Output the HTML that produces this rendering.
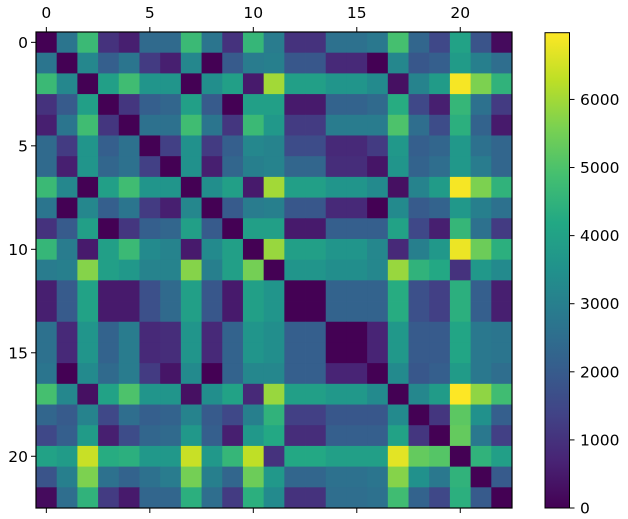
<!DOCTYPE html>
<html><head><meta charset="utf-8"><style>
html,body{margin:0;padding:0;background:#fff;}
svg{display:block;font-family:"DejaVu Sans","Liberation Sans",sans-serif;}
</style></head><body>
<svg id="chart" width="628" height="519" viewBox="0 0 628 519" xmlns="http://www.w3.org/2000/svg">
<defs><linearGradient id="vir" x1="0" y1="1" x2="0" y2="0"></linearGradient></defs>
<g id="cells"></g>
<g id="axes"></g>
<g id="cbar"></g>
</svg>
<script>
const rowLabels = [0,5,10,15,20];
const cbarTicks = [0,1000,2000,3000,4000,5000,6000];
const vmax = 6980;
const r0 = [0,2700,4700,1000,600,2400,2400,4700,2700,1000,4600,2900,1000,1000,2600,2600,2800,4900,2300,1500,4000,1800,200];
const r1 = [2700,0,3200,2100,2700,1200,600,3200,0,2000,2900,3000,1900,1900,800,800,0,3200,1900,2100,3800,3000,2500];
const r2 = [4700,3200,0,3900,4800,3600,3600,0,3400,3900,500,6000,3900,3900,3600,3600,3300,300,3100,3800,6900,5600,4500];
const r3 = [1000,2000,3900,0,1100,2100,2300,3900,2000,0,3900,3900,500,500,2200,2200,2400,4300,1500,600,4600,2600,1200];
const r4 = [600,2700,4800,1100,0,2600,2600,4800,2700,1100,4700,3700,1200,1200,2900,2900,2900,5000,2500,1600,4400,2200,500];
const r5 = [2400,1200,3600,2100,2600,0,1300,3500,1200,2100,3200,3100,1600,1600,800,800,1200,3700,2100,2300,3700,2600,2300];
const r6 = [2400,600,3600,2300,2600,1300,0,3500,600,2300,3000,3100,2300,2300,900,900,400,3600,2200,2500,3700,2900,2300];
const r7 = [4700,3200,0,3900,4800,3600,3600,0,3400,3900,500,6000,3900,3900,3600,3600,3300,300,3100,3800,6900,5600,4500];
const r8 = [2700,0,3200,2100,2700,1200,600,3200,0,2000,2900,3000,1900,1900,800,800,0,3300,2000,2200,3700,3000,2600];
const r9 = [1000,2000,3900,0,1100,2100,2300,3900,2000,0,3900,3900,500,500,2100,2100,2100,4000,1500,600,4600,2600,1200];
const r10 = [4600,2900,500,3900,4700,3300,3100,500,3300,3900,0,5900,3900,3900,3600,3600,3200,800,3000,3700,6800,5400,4400];
const r11 = [2900,3000,5700,3900,3700,3100,3100,5700,3000,3900,5500,0,3600,3600,3400,3400,3200,5900,4500,4200,1000,3700,3300];
const r12 = [600,2000,4000,500,500,1700,2400,3900,1900,500,3900,3600,0,0,2200,2200,2200,4300,1700,1300,4400,2100,600];
const r13 = [600,2000,4000,500,500,1700,2400,3900,1900,500,3900,3600,0,0,2200,2200,2200,4300,1700,1300,4400,2100,600];
const r14 = [2600,800,3600,2200,2900,800,900,3600,800,2200,3600,3400,2100,2100,0,0,700,3700,2000,2000,4100,2800,2700];
const r15 = [2600,800,3600,2200,2900,800,900,3600,800,2200,3600,3400,2100,2100,0,0,700,3700,2000,2000,4100,2800,2700];
const r16 = [2700,0,3300,2400,2900,1200,400,3300,0,2200,3200,3200,2100,2100,700,700,0,3300,1900,2100,3800,2800,2500];
const r17 = [4900,3200,300,4000,5000,3600,3600,300,3400,4000,800,5900,3900,3900,3700,3700,3300,0,3200,3800,6980,5800,4800];
const r18 = [2300,2000,3100,1500,2500,2100,2200,3100,2000,1500,3000,4500,1300,1300,1900,1900,1900,3300,0,1100,5200,3500,2100];
const r19 = [1500,2100,3800,600,1600,2300,2400,3700,2100,600,3700,4200,900,900,2100,2100,2100,4000,1100,0,5300,2800,1300];
const r20 = [4000,3800,6400,4300,4400,3700,3700,6400,3700,4600,6300,1000,4200,4200,3900,3900,3900,6700,5300,5100,0,4500,3900];
const r21 = [1800,3000,5600,2600,2200,2600,2900,5500,3000,2300,5400,3700,2300,2300,2600,2600,2700,5700,3500,2800,4500,0,2000];
const r22 = [200,2500,4500,1200,500,2300,2300,4400,2500,1200,4400,3300,1000,1000,2500,2500,2600,4800,2200,1500,4400,2000,0];
const matrix = [r0,r1,r2,r3,r4,r5,r6,r7,r8,r9,r10,r11,r12,r13,r14,r15,r16,r17,r18,r19,r20,r21,r22];

const VIR = ["#440154","#482475","#414487","#355f8d","#2a788e","#21918c","#22a884","#44bf70","#7ad151","#bddf26","#fde725"];
function hex(c){return [parseInt(c.slice(1,3),16),parseInt(c.slice(3,5),16),parseInt(c.slice(5,7),16)];}
function viridis(t){t=Math.max(0,Math.min(1,t));const p=t*10,i=Math.min(9,Math.floor(p)),f=p-i;const a=hex(VIR[i]),b=hex(VIR[i+1]);
return "rgb("+a.map((v,k)=>Math.round(v+(b[k]-v)*f)).join(",")+")";}
const NS="http://www.w3.org/2000/svg";
function mk(tag,attrs,parent){const e=document.createElementNS(NS,tag);for(const k in attrs)e.setAttribute(k,attrs[k]);parent.appendChild(e);return e;}
const X0=36,Y0=32,W=476,H=476,n=matrix.length,cw=W/n,ch=H/n;
const xs=i=>X0+i*cw, ys=i=>Y0+i*ch;
const cells=document.getElementById('cells');
matrix.forEach((row,r)=>row.forEach((v,c)=>{
 const e=mk('rect',{x:xs(c),y:ys(r),width:cw+0.4,height:ch+0.4,fill:viridis(v/vmax)},cells);
 
 
}));
const ax=document.getElementById('axes');
const fr=mk('rect',{x:X0,y:Y0,width:W,height:H,fill:'none',stroke:'#000','stroke-width':1.2},ax);

rowLabels.forEach(t=>{
 const cx=xs(t)+cw/2, cy=ys(t)+ch/2;
 mk('line',{x1:cx,y1:Y0,x2:cx,y2:Y0-5,stroke:'#000'},ax);
 mk('line',{x1:cx,y1:Y0+H,x2:cx,y2:Y0+H+5,stroke:'#000'},ax);
 mk('line',{x1:X0,y1:cy,x2:X0-5,y2:cy,stroke:'#000'},ax);
 const tx=mk('text',{x:cx,y:18,'text-anchor':'middle','font-size':15.5,fill:'#000'},ax);tx.textContent=t;
 
 const ty=mk('text',{x:X0-8,y:cy+5.5,'text-anchor':'end','font-size':15.5,fill:'#000'},ax);ty.textContent=t;
 
});
const grad=document.getElementById('vir');
VIR.forEach((c,i)=>mk('stop',{offset:(i*10)+'%','stop-color':c},grad));
const cb=document.getElementById('cbar');
const CX=545,CY=32.7,CW=24.5,CH=475.3;
const cr=mk('rect',{x:CX,y:CY,width:CW,height:CH,fill:'url(#vir)',stroke:'#000','stroke-width':1},cb);

cbarTicks.forEach(t=>{
 const y=CY+CH-(t/vmax)*CH;
 mk('line',{x1:CX+CW,y1:y,x2:CX+CW+5,y2:y,stroke:'#000'},cb);
 const tl=mk('text',{x:580,y:y+5.5,'font-size':15.5,fill:'#000'},cb);tl.textContent=t;
 
});
</script>
</body></html>
